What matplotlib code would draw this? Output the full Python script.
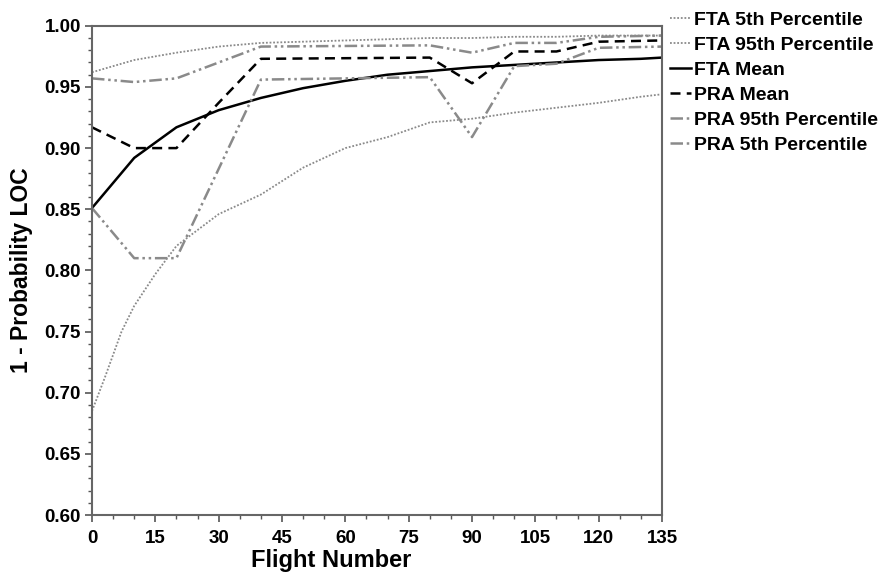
import numpy as np
import matplotlib.pyplot as plt
from matplotlib.ticker import MultipleLocator, FormatStrFormatter

plt.rcParams['font.family'] = ['Liberation Sans', 'DejaVu Sans']
plt.rcParams['font.weight'] = 'bold'

# flight numbers where the curves are sampled
flights = [0, 10, 20, 30, 40, 50, 60, 70, 80, 90, 100, 110, 120, 130, 135]
fta_mean = [0.851, 0.892, 0.917, 0.931, 0.941, 0.949, 0.955, 0.960, 0.963,
            0.966, 0.968, 0.970, 0.972, 0.973, 0.974]
fta_p95 = [0.962, 0.972, 0.978, 0.983, 0.986, 0.987, 0.988, 0.989, 0.990,
           0.990, 0.991, 0.991, 0.992, 0.992, 0.992]
fta5_flights = [0, 3, 5, 7, 10, 15, 20, 30, 40, 50, 60, 70, 80, 90, 100, 110, 120, 130, 135]
fta_p5 = [0.685, 0.712, 0.731, 0.750, 0.771, 0.797, 0.820, 0.846, 0.862, 0.884,
          0.900, 0.909, 0.921, 0.924, 0.929, 0.933, 0.937, 0.942, 0.944]

pra_flights = [0, 10, 20, 30, 40, 80, 90, 100, 110, 120, 135]
pra_mean = [0.917, 0.900, 0.900, 0.937, 0.973, 0.974, 0.953, 0.979, 0.979, 0.987, 0.988]
pra_p95 = [0.957, 0.954, 0.957, 0.970, 0.983, 0.984, 0.978, 0.986, 0.986, 0.991, 0.992]
pra_p5 = [0.851, 0.810, 0.810, 0.883, 0.956, 0.958, 0.909, 0.967, 0.969, 0.982, 0.983]

gray = '#8a8a8a'
dashdotdot = (0, (5, 1.5, 1, 1.5, 1, 1.5))

fig = plt.figure(figsize=(8.82, 5.73), dpi=100)
ax = fig.add_axes([0.1043, 0.1012, 0.6463, 0.8538])

ax.plot(fta5_flights, fta_p5, color=gray, lw=1.3, ls=(0, (1, 1)), label='FTA 5th Percentile')
ax.plot(flights, fta_p95, color=gray, lw=1.3, ls=(0, (1, 1)), label='FTA 95th Percentile')
ax.plot(flights, fta_mean, color='black', lw=1.8, ls='-', label='FTA Mean')
ax.plot(pra_flights, pra_mean, color='black', lw=1.8, ls=(0, (4, 2.5)), label='PRA Mean')
ax.plot(pra_flights, pra_p95, color=gray, lw=1.8, ls=dashdotdot, label='PRA 95th Percentile')
ax.plot(pra_flights, pra_p5, color=gray, lw=1.8, ls=dashdotdot, label='PRA 5th Percentile')

ax.set_xlim(0, 135)
ax.set_ylim(0.60, 1.00)
ax.xaxis.set_major_locator(MultipleLocator(15))
ax.xaxis.set_minor_locator(MultipleLocator(5))
ax.yaxis.set_major_locator(MultipleLocator(0.05))
ax.yaxis.set_minor_locator(MultipleLocator(0.01))
ax.yaxis.set_major_formatter(FormatStrFormatter('%.2f'))

for s in ax.spines.values():
    s.set_color('#666666')
    s.set_linewidth(1.5)
ax.tick_params(which='major', direction='out', length=5, width=1.2, color='#555555',
               labelsize=13.5)
ax.tick_params(axis='x', which='major', pad=6)
ax.tick_params(axis='y', which='major', pad=3)
ax.tick_params(which='minor', direction='out', length=3, width=1.0, color='#555555')
for lab in ax.get_xticklabels() + ax.get_yticklabels():
    lab.set_fontweight('bold')

ax.set_xlabel('Flight Number', fontsize=17, fontweight='bold')
ax.xaxis.set_label_coords(0.42, -0.07)
ax.set_ylabel('1 - Probability LOC', fontsize=16.5, fontweight='bold')
ax.yaxis.set_label_coords(-0.103, 0.5)

leg = ax.legend(loc='upper left', bbox_to_anchor=(1.0, 1.045), frameon=False,
                fontsize=14, handlelength=1.1, handletextpad=0.15,
                labelspacing=0.38, borderaxespad=0)
for t in leg.get_texts():
    t.set_fontweight('bold')

fig.savefig('out.png', dpi=100)
